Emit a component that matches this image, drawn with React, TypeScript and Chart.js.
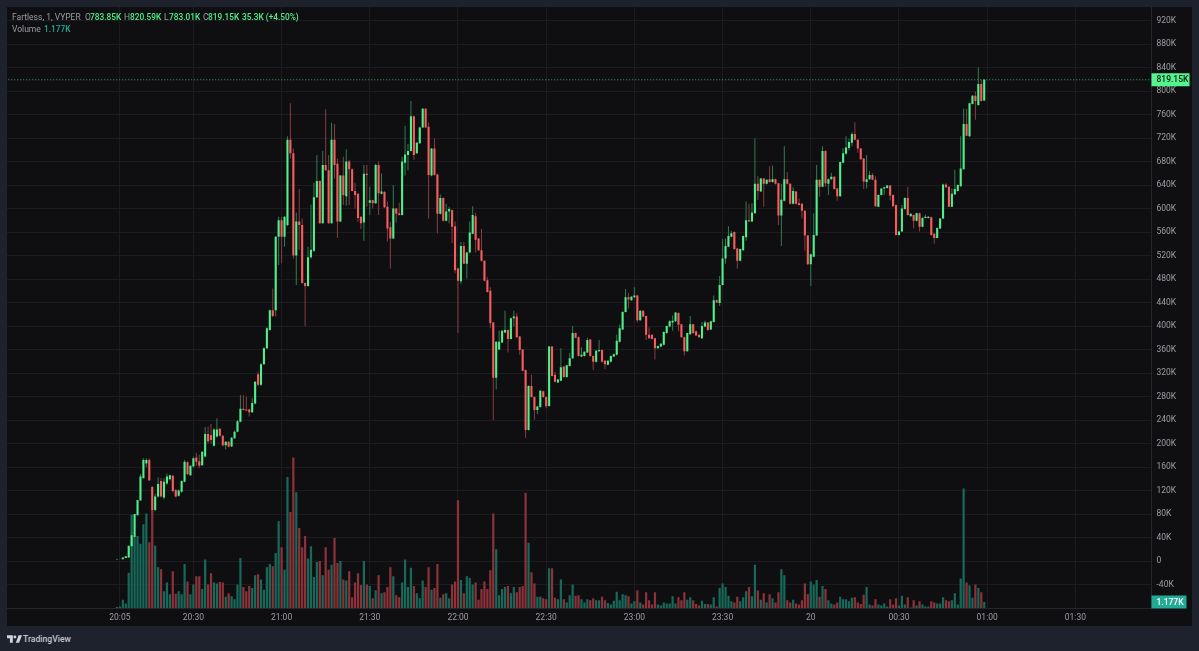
import { useEffect, useRef } from "react";
import Chart from "chart.js/auto";

// minutes after 20:00, first candle is 20:04
const firstMinute = 4;

const opens = [
  3, 3.5, 3, 5, 6, 25, 41, 78, 103, 141,
  166, 172, 126, 87, 110, 136, 108, 132, 139, 145,
  121, 111, 118, 135, 168, 146, 161, 176, 170, 163,
  178, 216, 214, 196, 212, 225, 213, 197, 203, 195,
  209, 220, 237, 259, 258, 258, 253, 268, 318, 300,
  335, 362, 393, 427, 427, 552, 580, 552, 572, 717,
  694, 520, 578, 572, 473, 468, 517, 528, 619, 647,
  575, 674, 665, 575, 717, 676, 578, 656, 621, 680,
  667, 630, 625, 586, 576, 659, 610, 614, 609, 674,
  625, 628, 603, 568, 549, 600, 592, 589, 678, 691,
  698, 757, 694, 711, 738, 770, 739, 656, 702, 658,
  591, 618, 579, 595, 597, 570, 498, 476, 536, 506,
  525, 557, 587, 549, 529, 511, 478, 460, 406, 312,
  360, 372, 389, 393, 378, 413, 416, 382, 360, 325,
  223, 298, 279, 257, 262, 289, 279, 264, 365, 317,
  304, 307, 331, 313, 332, 345, 388, 381, 348, 349,
  355, 377, 349, 339, 357, 359, 341, 334, 339, 348,
  351, 373, 394, 424, 449, 444, 449, 452, 410, 426,
  417, 385, 385, 379, 362, 365, 368, 388, 399, 406,
  408, 422, 403, 381, 357, 386, 403, 391, 385, 379,
  399, 406, 394, 407, 444, 439, 470, 515, 535, 552,
  560, 532, 511, 529, 551, 580, 578, 592, 642, 629,
  651, 642, 650, 645, 650, 643, 588, 613, 650, 642,
  608, 629, 609, 608, 596, 554, 505, 518, 554, 649,
  637, 698, 642, 650, 654, 634, 621, 678, 693, 703,
  712, 727, 717, 702, 685, 645, 650, 657, 649, 603,
  623, 634, 635, 639, 623, 606, 555, 561, 599, 618,
  587, 589, 579, 592, 569, 584, 584, 585, 557, 550,
  566, 583, 641, 637, 603, 624, 630, 638, 667, 744,
  723, 778, 792, 776, 812, 783.85,
];

const closes = [
  3.5, 3.5, 6, 8, 26, 44, 80, 104, 144, 172,
  172, 137, 87, 110, 131, 110, 135, 144, 146, 119,
  110, 120, 136, 169, 148, 162, 175, 169, 162, 186,
  216, 204, 206, 224, 224, 213, 197, 203, 195, 210,
  220, 238, 259, 257, 256, 253, 269, 305, 300, 335,
  362, 396, 427, 417, 552, 580, 552, 586, 717, 694,
  520, 578, 572, 473, 468, 517, 530, 619, 647, 575,
  674, 665, 575, 717, 674, 578, 656, 623, 680, 667,
  630, 623, 584, 575, 659, 657, 614, 609, 674, 626,
  629, 602, 566, 549, 600, 591, 589, 680, 692, 698,
  757, 691, 712, 738, 770, 738, 657, 702, 657, 591,
  618, 579, 595, 599, 569, 495, 477, 536, 506, 525,
  559, 589, 547, 529, 511, 477, 458, 405, 312, 373,
  373, 392, 393, 378, 413, 416, 381, 359, 324, 223,
  298, 279, 257, 263, 290, 279, 264, 365, 315, 305,
  309, 330, 313, 333, 345, 388, 380, 349, 351, 356,
  376, 349, 339, 358, 359, 339, 335, 341, 349, 352,
  375, 396, 424, 449, 445, 450, 452, 410, 426, 416,
  385, 379, 378, 362, 366, 370, 390, 400, 408, 409,
  423, 402, 381, 357, 388, 403, 388, 384, 381, 400,
  406, 393, 408, 444, 440, 470, 515, 536, 553, 558,
  531, 511, 531, 553, 580, 578, 593, 642, 630, 651,
  642, 649, 645, 650, 642, 588, 615, 650, 642, 608,
  630, 608, 606, 596, 554, 505, 522, 555, 649, 637,
  698, 643, 650, 654, 633, 621, 679, 694, 704, 713,
  727, 717, 702, 684, 646, 650, 657, 649, 604, 623,
  634, 636, 639, 622, 604, 555, 561, 600, 618, 589,
  591, 579, 592, 569, 584, 586, 586, 555, 550, 567,
  583, 641, 636, 603, 625, 633, 640, 668, 744, 724,
  779, 792, 783, 812, 783, 819.15,
];

const highs = [
  4, 4, 6, 8, 26, 53, 80, 104, 148, 175,
  175, 175, 128, 115, 142, 141, 141, 149, 147, 147,
  122, 122, 137, 172, 170, 163, 178, 184, 181, 187,
  228, 229, 233, 226, 243, 226, 214, 204, 204, 211,
  222, 240, 282, 282, 280, 259, 278, 306, 322, 337,
  364, 398, 428, 464, 553, 586, 586, 587, 723, 779,
  702, 593, 633, 583, 474, 535, 607, 644, 691, 648,
  698, 769, 691, 746, 744, 685, 657, 688, 701, 683,
  668, 644, 626, 587, 674, 674, 637, 615, 676, 680,
  660, 630, 612, 577, 640, 601, 610, 688, 741, 710,
  783, 758, 713, 739, 771, 771, 747, 703, 719, 659,
  624, 619, 608, 603, 598, 578, 499, 543, 543, 526,
  578, 604, 593, 550, 565, 512, 483, 466, 407, 374,
  392, 393, 426, 394, 414, 426, 422, 383, 361, 326,
  299, 317, 280, 264, 291, 290, 280, 366, 366, 322,
  310, 362, 332, 334, 354, 400, 389, 382, 364, 357,
  380, 378, 350, 359, 376, 360, 342, 342, 350, 353,
  385, 402, 425, 463, 456, 451, 466, 453, 427, 427,
  418, 398, 386, 380, 367, 371, 391, 401, 410, 418,
  424, 423, 404, 382, 389, 417, 404, 392, 386, 407,
  409, 407, 409, 452, 445, 485, 548, 549, 570, 562,
  561, 533, 532, 554, 612, 608, 609, 719, 655, 652,
  652, 650, 672, 673, 651, 644, 642, 706, 662, 643,
  636, 630, 617, 609, 597, 555, 523, 592, 674, 650,
  706, 699, 651, 661, 655, 635, 680, 703, 723, 719,
  730, 747, 718, 703, 686, 691, 664, 660, 655, 624,
  635, 637, 640, 640, 624, 607, 562, 606, 619, 637,
  592, 590, 593, 593, 585, 590, 587, 586, 558, 568,
  584, 642, 643, 638, 634, 666, 641, 723, 770, 770,
  780, 793, 799, 840, 819, 820.59,
];

const lows = [
  2.5, 3, 3, 5, 6, 25, 41, 78, 103, 141,
  160, 137, 84, 85, 108, 108, 105, 130, 137, 117,
  108, 110, 116, 134, 146, 145, 159, 162, 158, 162,
  176, 200, 200, 195, 210, 212, 195, 190, 193, 194,
  208, 219, 236, 256, 255, 246, 252, 267, 298, 298,
  334, 361, 392, 415, 416, 504, 507, 535, 570, 685,
  515, 470, 530, 472, 400, 467, 515, 526, 618, 574,
  574, 664, 574, 574, 651, 550, 577, 606, 605, 606,
  629, 600, 577, 565, 545, 603, 589, 600, 608, 589,
  624, 601, 544, 498, 548, 576, 588, 588, 656, 665,
  697, 683, 693, 710, 737, 737, 583, 655, 656, 558,
  590, 578, 578, 575, 541, 490, 388, 472, 505, 481,
  524, 556, 525, 528, 510, 476, 457, 396, 240, 292,
  359, 371, 388, 355, 377, 399, 380, 351, 323, 210,
  222, 278, 241, 250, 261, 278, 260, 263, 314, 304,
  303, 306, 312, 312, 331, 344, 379, 348, 347, 348,
  354, 348, 325, 338, 356, 338, 327, 333, 338, 347,
  350, 372, 393, 423, 430, 443, 448, 406, 409, 415,
  376, 378, 377, 343, 361, 364, 367, 387, 398, 392,
  407, 391, 380, 350, 356, 385, 387, 383, 380, 378,
  398, 392, 393, 406, 439, 434, 469, 506, 534, 551,
  530, 498, 510, 528, 545, 577, 577, 591, 615, 628,
  603, 641, 644, 644, 641, 572, 536, 612, 641, 607,
  607, 607, 605, 583, 528, 504, 468, 517, 553, 620,
  636, 637, 623, 649, 632, 613, 620, 677, 692, 699,
  706, 716, 695, 683, 633, 634, 649, 648, 603, 602,
  622, 623, 634, 614, 603, 554, 554, 560, 598, 588,
  586, 566, 578, 561, 568, 583, 583, 554, 540, 549,
  565, 582, 635, 602, 602, 623, 629, 637, 666, 723,
  722, 777, 751, 775, 782, 783.01,
];

const volumes = [
  0.2, 0.3, 1.6, 0.9, 6.9, 18.3, 13.9, 14.1, 12.6, 16.4,
  18.5, 12.9, 19.2, 12.2, 8, 7.6, 3.3, 5, 2.7, 7.2,
  2.8, 3.3, 2.7, 8.6, 5.2, 2.7, 4.6, 6.2, 6.2, 3.7,
  9.5, 4.6, 6.8, 5, 4.8, 5.1, 5, 2.2, 2.9, 2.3,
  1.7, 4.6, 9.8, 4.1, 3.3, 4.3, 3.9, 6.4, 6.6, 5.6,
  3.6, 8, 8.6, 8.2, 10.8, 17, 11.9, 7.5, 25.7, 18.8,
  29.5, 22.7, 15.7, 11.9, 14.1, 9.7, 12.1, 6.1, 9, 9.2,
  6.4, 11.9, 7.5, 8.5, 13.7, 8.8, 9.2, 5.6, 5.4, 7.2,
  2.1, 5, 6.8, 4.5, 9.2, 4.6, 4.3, 1.9, 3.5, 6.4,
  2.9, 3.1, 4.1, 8, 6.2, 2.5, 2.1, 5, 9.5, 4.1,
  7.9, 4.3, 2.9, 1.9, 5.4, 4.1, 8, 3.6, 3.9, 8.6,
  2, 2.7, 2.9, 1.9, 4.6, 5.2, 21.1, 5.5, 2.9, 6.2,
  5.9, 4.6, 5, 1.6, 3.7, 5.2, 3.7, 7.4, 18.5, 11.5,
  2.5, 3.7, 4.1, 4.3, 2.9, 4.1, 3.1, 4.1, 4.3, 22.6,
  12.8, 7, 4.8, 2.2, 2.2, 1.9, 1.7, 7.8, 7.8, 2,
  1.7, 5.6, 1.7, 1.1, 2.5, 4.6, 2.4, 2.5, 1.7, 1.1,
  1.7, 1.5, 1.9, 1.5, 1.5, 2.2, 1.5, 1, 0.7, 1.4,
  3.2, 1.5, 2.7, 2.5, 2.3, 0.9, 1.3, 3.5, 1.1, 0.7,
  3.1, 1.5, 0.7, 3.1, 0.7, 0.5, 1.1, 0.9, 0.9, 2.3,
  0.9, 2.1, 1.5, 3.1, 1.6, 2.1, 1.5, 0.8, 0.5, 1.4,
  0.8, 0.8, 0.7, 2.1, 0.3, 3.9, 4.8, 4.1, 2.4, 1.3,
  1.1, 2.2, 1.3, 2.1, 3.3, 4.1, 2.3, 8.5, 3.5, 1.6,
  2.9, 1.1, 2.7, 1.9, 1.1, 3.1, 7.6, 6.4, 1.5, 1.1,
  1.6, 0.9, 0.7, 1.5, 4.8, 2.7, 5.2, 4.6, 5.5, 2.2,
  4.3, 3.7, 1.5, 0.9, 0.7, 1.1, 2.2, 1.7, 1.7, 1.3,
  2, 2.1, 1.1, 0.8, 2.6, 4.1, 0.7, 0.5, 1.7, 0.7,
  0.5, 0.9, 0.3, 1.7, 0.7, 1.9, 0.5, 2.4, 0.7, 2.1,
  0.1, 1.5, 0.5, 1.3, 0.7, 0.3, 0.3, 1.3, 1.1, 0.9,
  0.9, 2.1, 1.5, 1.3, 1.5, 2.9, 0.7, 5.8, 23.4, 5,
  4.4, 2, 4.6, 3.9, 3.1, 1.177,
];

const tickMinutes = [5, 30, 60, 90, 120, 150, 180, 210, 240, 270, 300, 330];
const tickLabels = ["20:05", "20:30", "21:00", "21:30", "22:00", "22:30", "23:00", "23:30", "20", "00:30", "01:00", "01:30"];

const lastPrice = 819.15;
const lastVolume = 1.177;
const lastPriceLabel = "819.15K";
const lastVolumeLabel = "1.177K";

const UP = "#4ff08a";
const DOWN = "#f85c5c";
const UP_WICK = "#2f7d50";
const DOWN_WICK = "#8a3a40";
const UP_VOL = "#17695a";
const DOWN_VOL = "#8e323a";
const GRID = "#1c1c20";
const AXIS = "#26272d";
const TEXT = "#9b9da3";
const FONT = "Roboto, sans-serif";

// last price / last volume tags on the right axis
const tagsPlugin = {
  id: "tags",
  afterDraw(chart: any) {
    const { ctx, chartArea, scales } = chart;
    const tag = (y: number, w: number, bg: string, fg: string, text: string) => {
      ctx.save();
      ctx.fillStyle = bg;
      ctx.fillRect(chartArea.right, y - 6.5, w, 13);
      ctx.fillStyle = fg;
      ctx.font = `500 8.5px ${FONT}`;
      ctx.textAlign = "left";
      ctx.textBaseline = "middle";
      ctx.fillText(text, chartArea.right + 5, y + 0.5);
      ctx.restore();
    };
    tag(scales.y.getPixelForValue(lastPrice), 38, "#54f58f", "#0f1a14", lastPriceLabel);
    tag(scales.vol.getPixelForValue(lastVolume), 35, "#22ab94", "#ffffff", lastVolumeLabel);
  },
};

const legendPieces: [number, number, string, string][] = [
  [12, 17, "Fartless, 1, VYPER", TEXT],
  [85, 17, "O", TEXT],
  [90, 17, "783.85K", UP],
  [124, 17, "H", TEXT],
  [130, 17, "820.59K", UP],
  [164, 17, "L", TEXT],
  [169, 17, "783.01K", UP],
  [203, 17, "C", TEXT],
  [208, 17, "819.15K", UP],
  [242, 17, "35.3K (+4.50%)", UP],
  [12, 29, "Volume", TEXT],
  [44, 29, "1.177K", "#22ab94"],
];

// chart.js keeps room for half a tick label at the ends, the plot has to fill the panel
const noEndPadding = (scale: any) => {
  scale.paddingTop = 0;
  scale.paddingBottom = 0;
  scale.paddingLeft = 0;
  scale.paddingRight = 0;
};

const App = () => {
  const chartRef = useRef<HTMLCanvasElement>(null);

  useEffect(() => {
    if (!chartRef.current) return;
    const xs = opens.map((_, i) => firstMinute + i);
    const isUp = opens.map((o, i) => closes[i] >= o);

    const chart = new Chart(chartRef.current, {
      type: "bar",
      plugins: [tagsPlugin],
      data: {
        datasets: [
          {
            type: "line",
            data: [
              { x: -34, y: lastPrice },
              { x: 356, y: lastPrice },
            ],
            yAxisID: "y",
            borderColor: "#35a862",
            borderWidth: 1,
            borderDash: [1, 2],
            pointRadius: 0,
            order: 1,
          },
          {
            data: xs.map((x, i) => ({ x, y: [opens[i], closes[i]] })),
            yAxisID: "y",
            backgroundColor: isUp.map((u) => (u ? UP : DOWN)),
            barThickness: 2.1,
            grouped: false,
            inflateAmount: 0,
            order: 2,
          },
          {
            data: xs.map((x, i) => ({ x, y: [lows[i], highs[i]] })),
            yAxisID: "y",
            backgroundColor: isUp.map((u) => (u ? UP_WICK : DOWN_WICK)),
            barThickness: 1,
            grouped: false,
            inflateAmount: 0,
            order: 3,
          },
          {
            data: xs.map((x, i) => ({ x, y: volumes[i] })),
            yAxisID: "vol",
            backgroundColor: isUp.map((u) => (u ? UP_VOL : DOWN_VOL)),
            barThickness: 2.2,
            grouped: false,
            inflateAmount: 0,
            order: 4,
          },
        ],
      } as any,
      options: {
        responsive: false,
        animation: false,
        events: [],
        layout: { padding: 0 },
        plugins: { legend: { display: false }, tooltip: { enabled: false } },
        scales: {
          x: {
            type: "linear",
            min: -33.4,
            max: 355.9,
            offset: false,
            grid: { color: GRID, offset: false, drawTicks: false },
            border: { color: AXIS },
            afterBuildTicks: (scale: any) => {
              scale.ticks = tickMinutes.map((value) => ({ value }));
            },
            afterFit: (scale: any) => {
              scale.height = 18;
              noEndPadding(scale);
            },
            ticks: {
              autoSkip: false,
              maxRotation: 0,
              padding: 5,
              color: TEXT,
              font: { family: FONT, size: 8.5 },
              callback: (v: any) => tickLabels[tickMinutes.indexOf(Number(v))],
            },
          },
          y: {
            position: "right",
            min: -80,
            max: 943,
            grid: { color: GRID, drawTicks: false },
            border: { color: AXIS },
            afterFit: (scale: any) => {
              scale.width = 40.5;
              noEndPadding(scale);
            },
            ticks: {
              stepSize: 40,
              includeBounds: false,
              padding: 5,
              color: TEXT,
              font: { family: FONT, size: 8.5 },
              callback: (v: any) => {
                if (Number(v) <= -80) return "";
                return Number(v) === 0 ? "0" : `${v}K`;
              },
            },
          },
          vol: {
            display: false,
            min: 0,
            max: 117.8,
          },
        },
      } as any,
    });

    return () => chart.destroy();
  }, []);

  return (
    <div style={{ position: "fixed", left: 0, top: 0, width: 1199, height: 651, background: "#1e222d", overflow: "hidden", fontFamily: FONT }}>
      <canvas
        ref={chartRef}
        width={1185}
        height={619}
        style={{ position: "absolute", left: 7, top: 7, background: "#0f0f12", display: "block" }}
      />
      {legendPieces.map(([x, y, text, color]) => (
        <span
          key={`${x}-${y}`}
          style={{ position: "absolute", left: x, top: y - 6, lineHeight: "12px", fontSize: color === TEXT ? 8.5 : 8.3, color, whiteSpace: "nowrap", fontWeight: color === TEXT ? 400 : 500 }}
        >
          {text}
        </span>
      ))}
      <svg width="15" height="8" viewBox="0 0 36 18" style={{ position: "absolute", left: 7, top: 635 }}>
        <path d="M0 0h14v18H7V7H0z M28 0h8l-7 18h-8z" fill="#d1d4dc" />
        <circle cx="19" cy="4" r="3.5" fill="#d1d4dc" />
      </svg>
      <span style={{ position: "absolute", left: 23, top: 632, lineHeight: "14px", fontSize: 8.6, fontWeight: 500, color: "#c3c6cf" }}>
        TradingView
      </span>
    </div>
  );
};

export default App;
